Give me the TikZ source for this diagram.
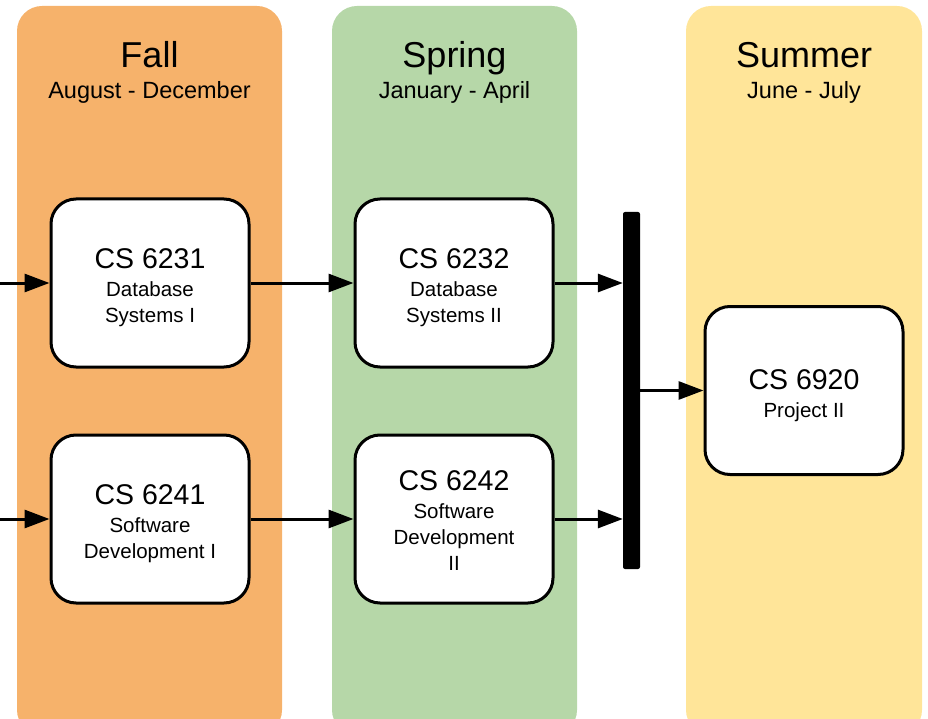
\documentclass[tikz,border=0pt]{standalone}
\usepackage{fontspec}
\setmainfont{Liberation Sans}
\usepackage{xcolor}
\usetikzlibrary{arrows.meta, positioning}
\definecolor{fallc}{HTML}{F6B26B}
\definecolor{springc}{HTML}{B6D7A8}
\definecolor{summerc}{HTML}{FFE599}
\newcommand{\codefont}{\fontsize{28.5}{28}\selectfont}

\begin{document}
\begin{tikzpicture}[
    x=1pt, y=-1pt,
    term/.style={fill, rounded corners=25pt},
    season/.style={font=\fontsize{36}{36}\selectfont, anchor=base},
    months/.style={font=\fontsize{23.5}{24}\selectfont, anchor=base},
    course/.style={draw, line width=3pt, rounded corners=25pt, fill=white,
                   minimum width=198pt, minimum height=168pt},
    ctext/.style={align=center, yshift=-5pt, font=\fontsize{20.5}{26}\selectfont},
    arr/.style={-{Triangle[length=25pt, width=18pt]}, line width=3pt}
]
\useasboundingbox (0,0) rectangle (928,719);
\clip (0,0) rectangle (928,719);

% semester columns
\fill[term, fallc] (17,6) rectangle (282,735);
\fill[term, springc] (332,6) rectangle (577,735);
\fill[term, summerc] (686,6) rectangle (922,735);

\node[season] (fall) at (149.5,68) {Fall};
\node[months, below=31pt of fall.base, anchor=base] (fallm) {August - December};
\node[season] (spring) at (454.5,68) {Spring};
\node[months, below=31pt of spring.base, anchor=base] (springm) {January - April};
\node[season] (summer) at (804,68) {Summer};
\node[months, below=31pt of summer.base, anchor=base] (summerm) {June - July};

% courses
\node[course] (db1) at (150,283) {};
\node[ctext] (db1t) at (db1) {{\codefont CS 6231}\\[2pt]Database\\Systems I};
\node[course] (sd1) at (150,519) {};
\node[ctext] (sd1t) at (sd1) {{\codefont CS 6241}\\[2pt]Software\\Development I};
\node[course] (db2) at (454,283) {};
\node[ctext] (db2t) at (db2) {{\codefont CS 6232}\\[2pt]Database\\Systems II};
\node[course] (sd2) at (454,519) {};
\node[ctext, yshift=3pt] (sd2t) at (sd2) {{\codefont CS 6242}\\[2pt]Software\\Development\\II};
\node[course] (proj) at (804,390.5) {};
\node[ctext] (projt) at (proj) {{\codefont CS 6920}\\[2pt]Project II};

\node[fill, rounded corners=2pt, minimum width=17pt, minimum height=357pt, inner sep=0pt] (bar) at (631.5,390.5) {};

\coordinate (in1) at (0,283);
\coordinate (in2) at (0,519);

\draw[arr] (in1) -- (db1);
\draw[arr] (in2) -- (sd1);
\draw[arr] (db1) -- (db2);
\draw[arr] (sd1) -- (sd2);
\draw[arr] (db2.east) -- (bar.west |- db2.east);
\draw[arr] (sd2.east) -- (bar.west |- sd2.east);
\draw[arr] (bar.east |- proj.west) -- (proj.west);
\end{tikzpicture}
\end{document}
